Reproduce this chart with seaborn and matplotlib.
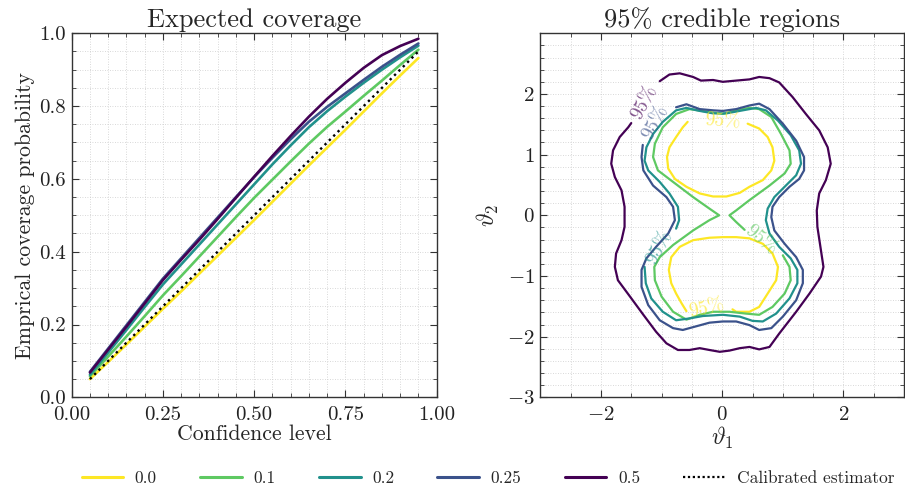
import numpy as np
import pandas as pd
import matplotlib
matplotlib.use("Agg")
import matplotlib.pyplot as plt
import seaborn as sns
from matplotlib.ticker import MultipleLocator, FixedLocator, FormatStrFormatter
from matplotlib.lines import Line2D

# ---------------- data: expected coverage ----------------
levels = ["0.0", "0.1", "0.2", "0.25", "0.5"]
colors = ["#fde725", "#5ec962", "#21918c", "#3b528b", "#440154"]

confidence = [0.05, 0.10, 0.15, 0.20, 0.25, 0.30, 0.35, 0.40, 0.45, 0.50,
              0.55, 0.60, 0.65, 0.70, 0.75, 0.80, 0.85, 0.90, 0.95]
cov_00 = [0.050, 0.097, 0.145, 0.194, 0.243, 0.291, 0.340, 0.389, 0.438, 0.487,
          0.537, 0.587, 0.637, 0.686, 0.735, 0.785, 0.835, 0.884, 0.932]
cov_01 = [0.058, 0.112, 0.167, 0.223, 0.280, 0.333, 0.387, 0.441, 0.495, 0.548,
          0.598, 0.648, 0.697, 0.743, 0.785, 0.828, 0.870, 0.913, 0.955]
cov_02 = [0.062, 0.123, 0.185, 0.248, 0.310, 0.365, 0.420, 0.475, 0.530, 0.585,
          0.640, 0.692, 0.742, 0.786, 0.826, 0.864, 0.900, 0.934, 0.966]
cov_025 = [0.070, 0.134, 0.198, 0.262, 0.326, 0.382, 0.438, 0.494, 0.550, 0.605,
           0.658, 0.709, 0.757, 0.798, 0.835, 0.872, 0.908, 0.941, 0.972]
cov_05 = [0.068, 0.131, 0.194, 0.258, 0.322, 0.378, 0.433, 0.490, 0.548, 0.606,
          0.663, 0.718, 0.771, 0.820, 0.864, 0.905, 0.940, 0.965, 0.985]
calibrated = [0.05, 0.10, 0.15, 0.20, 0.25, 0.30, 0.35, 0.40, 0.45, 0.50,
              0.55, 0.60, 0.65, 0.70, 0.75, 0.80, 0.85, 0.90, 0.95]

# ---------------- data: 95% credible-region contours ----------------
c05_x = [-1.03, -0.87, -0.70, -0.48, -0.35, -0.15, 0.01, 0.23, 0.45, 0.61, 0.78, 0.94,
         1.16, 1.38, 1.60, 1.74, 1.79, 1.71, 1.60, 1.56, 1.57, 1.62, 1.67, 1.63, 1.44,
         1.22, 0.94, 0.78, 0.61, 0.45, 0.29, 0.12, -0.04, -0.21, -0.37, -0.54, -0.73,
         -0.92, -1.09, -1.30, -1.52, -1.72, -1.77, -1.75, -1.66, -1.61, -1.61, -1.66,
         -1.77, -1.83, -1.80, -1.69, -1.55, -1.50]
c05_y = [2.21, 2.32, 2.34, 2.28, 2.22, 2.23, 2.20, 2.22, 2.24, 2.28, 2.26, 2.19,
         1.95, 1.67, 1.40, 1.12, 0.85, 0.58, 0.36, 0.08, -0.19, -0.52, -0.85, -1.01, -1.29,
         -1.59, -1.95, -2.17, -2.21, -2.17, -2.19, -2.23, -2.25, -2.22, -2.19, -2.22, -2.22,
         -2.11, -1.92, -1.64, -1.34, -1.07, -0.85, -0.63, -0.41, -0.19, 0.14, 0.41,
         0.63, 0.85, 1.07, 1.29, 1.45, 1.52]

c025_x = [-0.76, -0.59, -0.37, -0.15, 0.01, 0.23, 0.45, 0.61, 0.78, 1.00, 1.22, 1.35,
          1.35, 1.27, 1.11, 0.94, 0.83, 0.81, 0.86, 1.03, 1.22, 1.33, 1.33, 1.22, 1.00,
          0.81, 0.61, 0.45, 0.23, 0.01, -0.21, -0.43, -0.65, -0.81, -1.03, -1.22, -1.33,
          -1.33, -1.25, -1.09, -0.89, -0.78, -0.81, -0.92, -1.14, -1.30, -1.33, -1.31]
c025_y = [1.78, 1.83, 1.75, 1.73, 1.72, 1.75, 1.81, 1.84, 1.75, 1.51, 1.23, 0.96,
          0.74, 0.60, 0.47, 0.30, 0.14, -0.03, -0.25, -0.47, -0.69, -0.90, -1.12, -1.40, -1.67,
          -1.86, -1.89, -1.81, -1.75, -1.75, -1.77, -1.83, -1.89, -1.86, -1.73, -1.48, -1.18,
          -0.90, -0.71, -0.52, -0.30, -0.08, 0.14, 0.30, 0.49, 0.74, 0.96, 1.16]

c02_x = [-1.28, -1.26, -1.17, -0.98, -0.76, -0.54, -0.32, 0.01, 0.29, 0.50, 0.67, 0.89,
         1.11, 1.24, 1.24, 1.13, 0.94, 0.78, 0.72, 0.75, 0.86, 1.05, 1.22, 1.30, 1.27,
         1.13, 0.92, 0.72, 0.56, 0.34, 0.07, -0.15, -0.37, -0.59, -0.76, -0.98, -1.14,
         -1.25, -1.28, -1.22, -1.03, -0.87, -0.73, -0.71, -0.76]
c02_y = [-0.85, -1.12, -1.37, -1.59, -1.73, -1.70, -1.66, -1.64, -1.67, -1.74, -1.75, -1.62,
         -1.37, -1.12, -0.90, -0.71, -0.52, -0.30, -0.08, 0.11, 0.30, 0.49, 0.66, 0.85, 1.07,
         1.32, 1.56, 1.73, 1.77, 1.73, 1.68, 1.68, 1.72, 1.77, 1.73, 1.54, 1.34,
         1.12, 0.90, 0.74, 0.55, 0.36, 0.14, -0.08, -0.22]

c01_x = [1.00, 1.11, 1.13, 1.03, 0.83, 0.61, 0.39, 0.12, -0.15, -0.37, -0.59, -0.81,
         -1.00, -1.11, -1.12, -1.03, -0.81, -0.48, -0.21, -0.05, -0.21, -0.48, -0.81,
         -1.06, -1.14, -1.11, -0.98, -0.76, -0.54, -0.26, 0.01, 0.23, 0.45, 0.61, 0.81,
         0.97, 1.11, 1.13, 1.03, 0.78, 0.45, 0.23, 0.12, 0.23, 0.37]
c01_y = [-0.66, -0.85, -1.07, -1.29, -1.51, -1.64, -1.62, -1.59, -1.59, -1.64, -1.72, -1.59,
         -1.34, -1.07, -0.85, -0.69, -0.49, -0.25, -0.08, 0.00, 0.11, 0.30, 0.55,
         0.74, 0.96, 1.18, 1.45, 1.67, 1.75, 1.71, 1.67, 1.73, 1.77, 1.75, 1.62,
         1.34, 1.07, 0.85, 0.69, 0.49, 0.25, 0.08, 0.00, -0.11, -0.24]

c00_up_x = [0.42, 0.61, 0.75, 0.83, 0.86, 0.81, 0.67, 0.45, 0.29, 0.07, -0.15, -0.37,
            -0.59, -0.78, -0.89, -0.91, -0.87, -0.76, -0.65, -0.57]
c00_up_y = [1.51, 1.43, 1.29, 1.12, 0.90, 0.74, 0.58, 0.47, 0.37, 0.31, 0.31, 0.36,
            0.47, 0.60, 0.77, 0.96, 1.12, 1.29, 1.45, 1.54]
c00_lo_x = [0.17, 0.23, 0.45, 0.61, 0.75, 0.89, 0.92, 0.83, 0.67, 0.45, 0.23, 0.01,
            -0.21, -0.48, -0.70, -0.84, -0.88, -0.84, -0.76, -0.67, -0.59]
c00_lo_y = [-1.55, -1.59, -1.59, -1.51, -1.29, -1.07, -0.85, -0.63, -0.47, -0.38, -0.36, -0.36,
            -0.37, -0.41, -0.52, -0.69, -0.90, -1.12, -1.29, -1.45, -1.58]

contours = [
    ("0.0", c00_up_x, c00_up_y),
    ("0.0", c00_lo_x, c00_lo_y),
    ("0.1", c01_x, c01_y),
    ("0.2", c02_x, c02_y),
    ("0.25", c025_x, c025_y),
    ("0.5", c05_x, c05_y),
]

label_level = ["0.5", "0.25", "0.2", "0.1", "0.0", "0.0"]
label_x = [-1.28, -1.10, -1.03, 0.63, 0.00, -0.26]
label_y = [1.86, 1.53, -0.53, -0.41, 1.55, -1.54]
label_rot = [62, 62, 62, -40, -4, 12]

# ---------------- style ----------------
sns.set_style("ticks")
plt.rcParams.update({
    "font.family": ["cmr10", "DejaVu Serif"],
    "mathtext.fontset": "cm",
    "axes.formatter.use_mathtext": True,
    "axes.unicode_minus": True,
    "axes.edgecolor": "#333333",
    "axes.linewidth": 1.0,
    "xtick.direction": "in",
    "ytick.direction": "in",
    "xtick.top": True,
    "ytick.right": True,
    "xtick.major.size": 5,
    "ytick.major.size": 5,
    "xtick.minor.size": 3,
    "ytick.minor.size": 3,
    "xtick.major.pad": 6,
    "ytick.major.pad": 4,
    "xtick.color": "#333333",
    "ytick.color": "#333333",
    "xtick.labelcolor": "#222222",
    "ytick.labelcolor": "#222222",
    "xtick.labelsize": 15,
    "ytick.labelsize": 15,
})

palette = dict(zip(levels, colors))

fig = plt.figure(figsize=(9.05, 4.93), dpi=100)
ax1 = fig.add_axes([0.0792, 0.1941, 0.4033, 0.7384])
ax2 = fig.add_axes([0.5970, 0.1941, 0.4020, 0.7384])

# ---- left panel ----
cov_series = [cov_00, cov_01, cov_02, cov_025, cov_05]
df = pd.DataFrame({
    "confidence": np.tile(confidence, len(levels)),
    "coverage": np.concatenate(cov_series),
    "level": np.repeat(levels, len(confidence)),
})
sns.lineplot(data=df, x="confidence", y="coverage", hue="level", palette=palette,
             hue_order=levels, linewidth=1.9, ax=ax1, legend=False)
sns.lineplot(x=confidence, y=calibrated, color="black", linestyle=(0, (1, 1.6)),
             linewidth=1.7, ax=ax1, legend=False)

ax1.set_xlim(0, 1)
ax1.set_ylim(0, 1)
ax1.xaxis.set_major_locator(MultipleLocator(0.25))
ax1.xaxis.set_minor_locator(MultipleLocator(0.05))
ax1.yaxis.set_major_locator(MultipleLocator(0.2))
ax1.yaxis.set_minor_locator(MultipleLocator(0.05))
ax1.xaxis.set_major_formatter(FormatStrFormatter("%.2f"))
ax1.yaxis.set_major_formatter(FormatStrFormatter("%.1f"))
ax1.set_title("Expected coverage", fontsize=19, pad=4.5)
ax1.set_xlabel("Confidence level", fontsize=15.7, labelpad=1)
ax1.set_ylabel("Emprical coverage probability", fontsize=15.7, labelpad=3)

# ---- right panel ----
for lvl, xs, ys in contours:
    sns.lineplot(x=xs, y=ys, sort=False, estimator=None, color=palette[lvl],
                 linewidth=1.6, ax=ax2, legend=False)
for lvl, lx, ly, rot in zip(label_level, label_x, label_y, label_rot):
    ax2.text(lx, ly, "95%", color=palette[lvl], alpha=0.65, fontsize=14,
             rotation=rot, ha="center", va="center", rotation_mode="anchor")

ax2.set_xlim(-3, 3)
ax2.set_ylim(-3, 3)
ax2.xaxis.set_major_locator(FixedLocator([-2, 0, 2]))
ax2.xaxis.set_minor_locator(MultipleLocator(0.5))
ax2.yaxis.set_major_locator(FixedLocator([-3, -2, -1, 0, 1, 2]))
ax2.yaxis.set_minor_locator(MultipleLocator(0.2))
ax2.set_title("95% credible regions", fontsize=19, pad=4.5)
ax2.set_xlabel(r"$\vartheta_1$", fontsize=17, labelpad=1)
ax2.set_ylabel(r"$\vartheta_2$", fontsize=17, labelpad=4)

for ax in (ax1, ax2):
    ax.tick_params(which="both", top=True, right=True)
    ax.grid(which="both", linestyle=(0, (1, 2)), color="#cccccc", linewidth=0.6)
    ax.set_axisbelow(True)

# ---- legend ----
handles = [Line2D([0], [0], color=c, linewidth=2.2) for c in colors]
handles.append(Line2D([0], [0], color="black", linestyle=(0, (1, 1.2)), linewidth=1.6))
labels = levels + ["Calibrated estimator"]
fig.legend(handles, labels, loc="center", bbox_to_anchor=(0.539, 0.030), ncol=6,
           frameon=False, fontsize=12.5, handlelength=2.4, handletextpad=0.66,
           columnspacing=2.5, borderaxespad=0)

fig.savefig("out.png", dpi=100)
